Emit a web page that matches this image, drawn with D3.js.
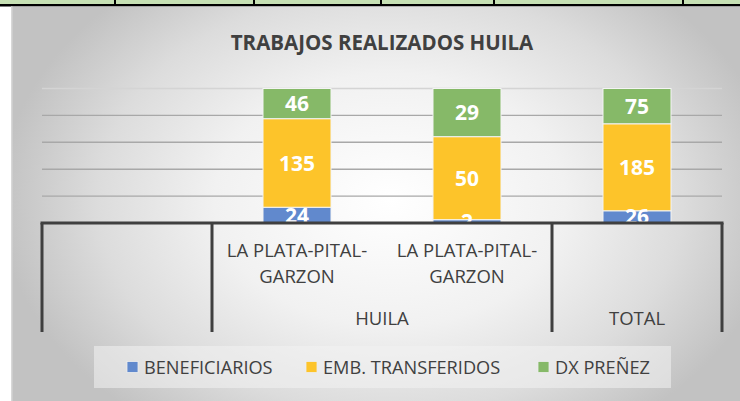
<!DOCTYPE html>
<html>
<head>
<meta charset="utf-8">
<script src="https://cdn.jsdelivr.net/npm/d3@7"></script>
<style>
  body { margin: 0; background: #fff; }
  svg { display: block; font-family: "Open Sans", sans-serif; }
</style>
</head>
<body>
<div id="chart"></div>
<script>
// Data
const title = "TRABAJOS REALIZADOS HUILA";
const categories = ["", "LA PLATA-PITAL-GARZON", "LA PLATA-PITAL-GARZON", ""];
const groupLabels = ["", "HUILA", "TOTAL"];
const groupSpans = [1, 2, 1];
const seriesNames = ["BENEFICIARIOS", "EMB. TRANSFERIDOS", "DX PREÑEZ"];
const beneficiarios = [0, 24, 2, 26];
const embTransferidos = [0, 135, 50, 185];
const dxPrenez = [0, 46, 29, 75];
const yTicks = [0, 0.2, 0.4, 0.6, 0.8, 1];
const colors = ["#6189cd", "#fdc42a", "#86b968"];

// Dimensions
const W = 740, H = 401;
const plot = { left: 42, right: 722, top: 88.5, bottom: 223 };
const axisColor = "#3f3f3f";

const svg = d3.select("#chart").append("svg").attr("width", W).attr("height", H);
const defs = svg.append("defs");

// background gradient (excel style)
const grad = defs.append("radialGradient")
  .attr("id", "bg")
  .attr("gradientUnits", "userSpaceOnUse")
  .attr("cx", 390).attr("cy", 200).attr("r", 390)
  .attr("gradientTransform", "translate(390,200) scale(1,0.72) translate(-390,-200)");
grad.append("stop").attr("offset", 0).attr("stop-color", "#ffffff");
grad.append("stop").attr("offset", 0.45).attr("stop-color", "#f1f1f1");
grad.append("stop").attr("offset", 0.75).attr("stop-color", "#dcdcdc");
grad.append("stop").attr("offset", 1).attr("stop-color", "#c2c2c2");

defs.append("clipPath").attr("id", "plotClip")
  .append("rect")
  .attr("x", plot.left).attr("y", plot.top - 10)
  .attr("width", plot.right - plot.left).attr("height", plot.bottom - plot.top + 10);

// spreadsheet cells peeking at top
svg.append("rect").attr("x", 0).attr("y", 0).attr("width", W).attr("height", 5).attr("fill", "#c6e0b4");
svg.append("rect").attr("x", 0).attr("y", 4).attr("width", W).attr("height", 2.5).attr("fill", "#000");
[115, 254, 381, 494, 683].forEach(x => {
  svg.append("rect").attr("x", x - 1).attr("y", 0).attr("width", 2).attr("height", 5).attr("fill", "#000");
});

// chart area
svg.append("rect").attr("x", 11).attr("y", 6.5).attr("width", W - 11).attr("height", H - 6.5).attr("fill", "url(#bg)");
svg.append("rect").attr("x", 11).attr("y", 6.5).attr("width", 1.5).attr("height", H - 6.5).attr("fill", "#d8d8d8");

// title
svg.append("text")
  .attr("x", 382).attr("y", 50)
  .attr("text-anchor", "middle")
  .attr("font-size", 20.5).attr("font-weight", 700)
  .attr("fill", "#404040")
  .text(title);

// scales
const x = d3.scaleBand().domain(d3.range(categories.length)).range([plot.left, plot.right]).padding(0);
const y = d3.scaleLinear().domain([0, 1]).range([plot.bottom, plot.top]);
const barW = x.bandwidth() * 0.4;

// gridlines
svg.append("g").selectAll("line")
  .data(yTicks.filter(d => d > 0))
  .join("line")
  .attr("x1", plot.left).attr("x2", plot.right)
  .attr("y1", d => y(d)).attr("y2", d => y(d))
  .attr("stroke", d => d === 1 ? "#d4d4d4" : "#a8a8a8")
  .attr("stroke-width", 1.4);

// stacked 100% bars
const rows = categories.map((c, i) => ({ i, b: beneficiarios[i], e: embTransferidos[i], d: dxPrenez[i] }))
  .filter(r => r.b + r.e + r.d > 0);
const stacked = d3.stack().keys(["b", "e", "d"]).offset(d3.stackOffsetExpand)(rows);

const barsG = svg.append("g").attr("clip-path", "url(#plotClip)");
stacked.forEach((layer, k) => {
  barsG.append("g").selectAll("rect")
    .data(layer)
    .join("rect")
    .attr("x", d => x(d.data.i) + (x.bandwidth() - barW) / 2)
    .attr("y", d => y(d[1]))
    .attr("width", barW)
    .attr("height", d => y(d[0]) - y(d[1]))
    .attr("fill", colors[k])
    .attr("stroke", "#f4f4f4").attr("stroke-width", 1);
});
stacked.forEach(layer => {
  barsG.append("g").selectAll("text")
    .data(layer)
    .join("text")
    .attr("x", d => x(d.data.i) + x.bandwidth() / 2)
    .attr("y", d => (y(d[0]) + y(d[1])) / 2)
    .attr("dy", "0.36em")
    .attr("text-anchor", "middle")
    .attr("font-size", 21).attr("font-weight", 700)
    .attr("fill", "#fff")
    .text(d => d.data[layer.key]);
});

// category axis (multi-level)
const axisG = svg.append("g").attr("stroke", axisColor).attr("stroke-width", 3);
axisG.append("line")
  .attr("x1", plot.left - 1.5).attr("x2", plot.right + 1.5)
  .attr("y1", plot.bottom).attr("y2", plot.bottom);

let cum = 0;
const groupEdges = [0];
groupSpans.forEach(s => { cum += s; groupEdges.push(cum); });
axisG.selectAll("line.div")
  .data(groupEdges)
  .join("line")
  .attr("class", "div")
  .attr("x1", i => i < categories.length ? x(i) : plot.right)
  .attr("x2", i => i < categories.length ? x(i) : plot.right)
  .attr("y1", plot.bottom).attr("y2", 332);

// wrap helper
const wrap = (textSel, width) => {
  textSel.each(function () {
    const t = d3.select(this);
    const words = t.text().split(/(?<=[- ])/);
    t.text(null);
    let lines = [], line = "";
    const probe = t.append("tspan");
    words.forEach(w => {
      probe.text((line + w).trim());
      if (probe.node().getComputedTextLength() > width && line) {
        lines.push(line.trim());
        line = w;
      } else line += w;
    });
    if (line) lines.push(line.trim());
    probe.remove();
    lines.forEach((l, j) => {
      t.append("tspan").attr("x", t.attr("x")).attr("dy", j === 0 ? 0 : 26).text(l);
    });
  });
};

svg.append("g").selectAll("text")
  .data(categories.map((c, i) => ({ c, i })).filter(d => d.c))
  .join("text")
  .attr("x", d => x(d.i) + x.bandwidth() / 2)
  .attr("y", 257)
  .attr("text-anchor", "middle")
  .attr("font-size", 18.5).attr("fill", "#404040")
  .text(d => d.c)
  .call(wrap, x.bandwidth() - 10);

svg.append("g").selectAll("text")
  .data(groupLabels.map((g, k) => ({ g, k })).filter(d => d.g))
  .join("text")
  .attr("x", d => (x(groupEdges[d.k]) + (groupEdges[d.k + 1] < categories.length ? x(groupEdges[d.k + 1]) : plot.right)) / 2)
  .attr("y", 325)
  .attr("text-anchor", "middle")
  .attr("font-size", 18.5).attr("fill", "#404040")
  .text(d => d.g);

// legend
svg.append("rect").attr("x", 94).attr("y", 346).attr("width", 577).attr("height", 42)
  .attr("fill", "#f2f2f2").attr("fill-opacity", 0.55);
const legendX = [127, 306, 538];
const leg = svg.append("g").selectAll("g")
  .data(seriesNames)
  .join("g")
  .attr("transform", (d, i) => `translate(${legendX[i]},367)`);
leg.append("rect").attr("x", 0).attr("y", -5.5).attr("width", 11).attr("height", 11)
  .attr("fill", (d, i) => colors[i]).attr("stroke", "#eee").attr("stroke-width", 0.8);
leg.append("text").attr("x", 17).attr("dy", "0.36em")
  .attr("font-size", 18.2).attr("fill", "#404040")
  .text(d => d);
</script>
</body>
</html>
